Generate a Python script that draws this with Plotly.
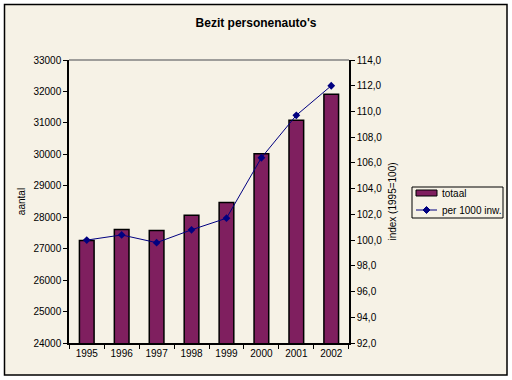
import plotly.graph_objects as go

years = ["1995", "1996", "1997", "1998", "1999", "2000", "2001", "2002"]
totaal = [27260, 27610, 27580, 28060, 28470, 30020, 31080, 31910]
per_1000 = [100.0, 100.4, 99.8, 100.8, 101.7, 106.4, 109.7, 112.0]
series_names = ["totaal", "per 1000 inw."]

BAR_COLOR = "#7F1F5F"
LINE_COLOR = "#000080"
CREAM = "#F6F2E6"

fig = go.Figure()
fig.add_trace(go.Bar(
    x=years, y=totaal, name=series_names[0],
    marker=dict(color=BAR_COLOR, line=dict(color="black", width=1.5)),
    width=0.42, yaxis="y",
))
fig.add_trace(go.Scatter(
    x=years, y=per_1000, name=series_names[1], mode="lines+markers",
    line=dict(color=LINE_COLOR, width=1),
    marker=dict(symbol="diamond", size=6, color=LINE_COLOR),
    yaxis="y2",
))

font = dict(family="Liberation Sans, Arial, sans-serif", size=10, color="black")

# plot area in pixels: x 69..349, y 60..343
def px(x):
    return (x - 69) / 280.0

def py(y):
    return (343 - y) / 283.0

# manual legend geometry (pixels)
lg_x0, lg_x1, lg_y0, lg_y1 = 412, 503, 187, 218
sw_x0, sw_x1 = 416, 437
row1, row2 = 193, 210
dx, dy = 3.5, 3.5  # diamond half-size
dcx = (sw_x0 + sw_x1) / 2

shapes = [
    # outer chart area
    dict(type="rect", xref="paper", yref="paper",
         x0=px(4.5), x1=px(507), y0=py(4.5), y1=py(375),
         line=dict(color="black", width=1.5), fillcolor=CREAM, layer="below"),
    # plot area top border
    dict(type="line", xref="paper", yref="paper", x0=0, x1=1, y0=1, y1=1,
         line=dict(color="#808080", width=1.5)),
    # legend box
    dict(type="rect", xref="paper", yref="paper",
         x0=px(lg_x0), x1=px(lg_x1), y0=py(lg_y0), y1=py(lg_y1),
         line=dict(color="black", width=1), fillcolor=CREAM),
    # bar swatch
    dict(type="rect", xref="paper", yref="paper",
         x0=px(sw_x0), x1=px(sw_x1), y0=py(row1 - 3), y1=py(row1 + 3),
         line=dict(color="black", width=1), fillcolor=BAR_COLOR),
    # line swatch
    dict(type="line", xref="paper", yref="paper",
         x0=px(sw_x0), x1=px(sw_x1), y0=py(row2), y1=py(row2),
         line=dict(color=LINE_COLOR, width=1)),
    dict(type="path", xref="paper", yref="paper",
         path="M {} {} L {} {} L {} {} L {} {} Z".format(
             px(dcx), py(row2 - dy), px(dcx + dx), py(row2),
             px(dcx), py(row2 + dy), px(dcx - dx), py(row2)),
         line=dict(color=LINE_COLOR, width=1), fillcolor=LINE_COLOR),
]

annotations = [
    dict(text=series_names[0], xref="paper", yref="paper", x=px(440), y=py(row1),
         xanchor="left", yanchor="middle", showarrow=False, font=font),
    dict(text=series_names[1], xref="paper", yref="paper", x=px(440), y=py(row2),
         xanchor="left", yanchor="middle", showarrow=False, font=font),
]

fig.update_layout(
    width=512, height=380,
    margin=dict(l=69, r=163, t=60, b=37, autoexpand=False),
    paper_bgcolor="white",
    plot_bgcolor="#C0C0C0",
    separators=",.",
    font=font,
    showlegend=False,
    title=dict(text="<b>Bezit personenauto's</b>", x=0.5, xanchor="center",
               y=1 - 23 / 380, yanchor="middle",
               font=dict(family="Liberation Sans, Arial, sans-serif", size=12, color="black")),
    xaxis=dict(type="category", showgrid=False, ticks="outside", tickson="boundaries",
               ticklen=4, tickcolor="black", linecolor="black", linewidth=1.5,
               showline=True, tickfont=font, automargin=False),
    yaxis=dict(range=[24000, 33000], dtick=1000, tickformat="d", showgrid=False,
               ticks="outside", ticklen=4, tickcolor="black", showline=True,
               linecolor="black", linewidth=1.5, zeroline=False, tickfont=font,
               automargin=False,
               title=dict(text="aantal", standoff=6, font=font)),
    yaxis2=dict(range=[92, 114], dtick=2, tickformat=".1f", overlaying="y", side="right",
                showgrid=False, ticks="outside", ticklen=4, tickcolor="black",
                showline=True, linecolor="black", linewidth=1.5, zeroline=False,
                automargin=False,
                tickfont=font, title=dict(text="index (1995=100)", standoff=8, font=font)),
    bargap=0.58,
    shapes=shapes,
    annotations=annotations,
)

fig.write_html("out.html", config={"displayModeBar": False},
               post_script="document.body.style.margin='0';")
